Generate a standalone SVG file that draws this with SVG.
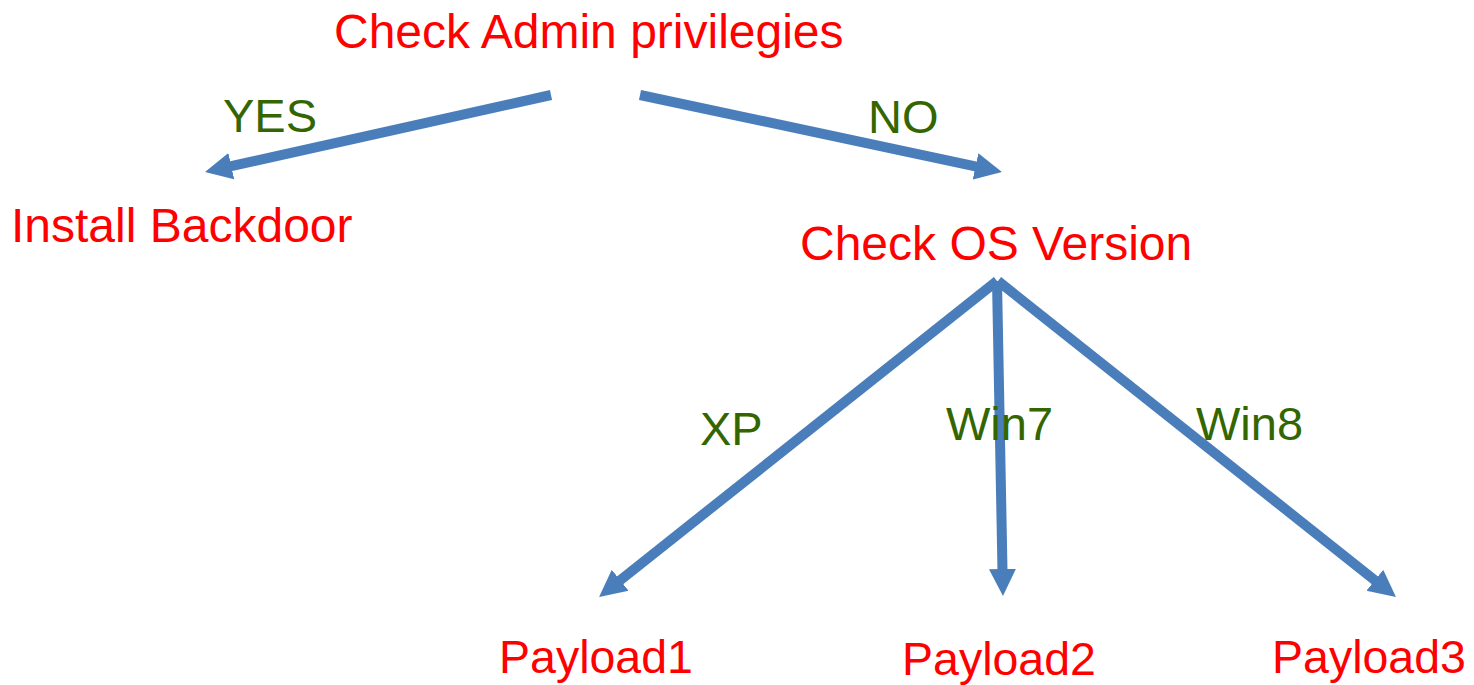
<svg xmlns="http://www.w3.org/2000/svg" width="1474" height="685" viewBox="0 0 1474 685">
<style>
.node{font-family:"Liberation Sans",Arial,sans-serif;font-size:48px;fill:#ff0000}
.pay{font-size:46.5px}
.lbl{font-family:"Liberation Sans",Arial,sans-serif;font-size:47px;fill:#336600}
.edge{stroke:#4a7ebb;stroke-width:10;fill:none;marker-end:url(#ah)}
</style>
<defs>
<marker id="ah" markerUnits="userSpaceOnUse" markerWidth="30" markerHeight="30" viewBox="0 -15 30 30" refX="7" refY="0" orient="auto">
<path d="M0,-13.5 L27,0 L0,13.5 z" fill="#4a7ebb"/>
</marker>
</defs>
<rect width="1474" height="685" fill="#ffffff"/>
<g id="connectors">
<line class="edge" x1="551" y1="95" x2="224.5" y2="167.7"/>
<line class="edge" x1="640" y1="95" x2="982.4" y2="167.8"/>
<line class="edge" x1="997" y1="281" x2="614.7" y2="584.6"/>
<line class="edge" x1="997" y1="281" x2="1002.6" y2="576"/>
<line class="edge" x1="998" y1="281" x2="1380.3" y2="584.6"/>
<text class="lbl" x="223" y="132">YES</text>
<text class="lbl" x="868" y="133">NO</text>
<text class="lbl" x="700" y="445">XP</text>
<text class="lbl" x="946" y="440">Win7</text>
<text class="lbl" x="1196" y="440">Win8</text>
</g>
<g id="n-admin"><text class="node" x="334" y="48">Check Admin privilegies</text></g>
<g id="n-backdoor"><text class="node" x="11" y="242">Install Backdoor</text></g>
<g id="n-os"><text class="node" x="800" y="260">Check OS Version</text></g>
<g id="n-p1"><text class="node pay" x="499" y="673">Payload1</text></g>
<g id="n-p2"><text class="node pay" x="902" y="675">Payload2</text></g>
<g id="n-p3"><text class="node pay" x="1272" y="673">Payload3</text></g>
</svg>
